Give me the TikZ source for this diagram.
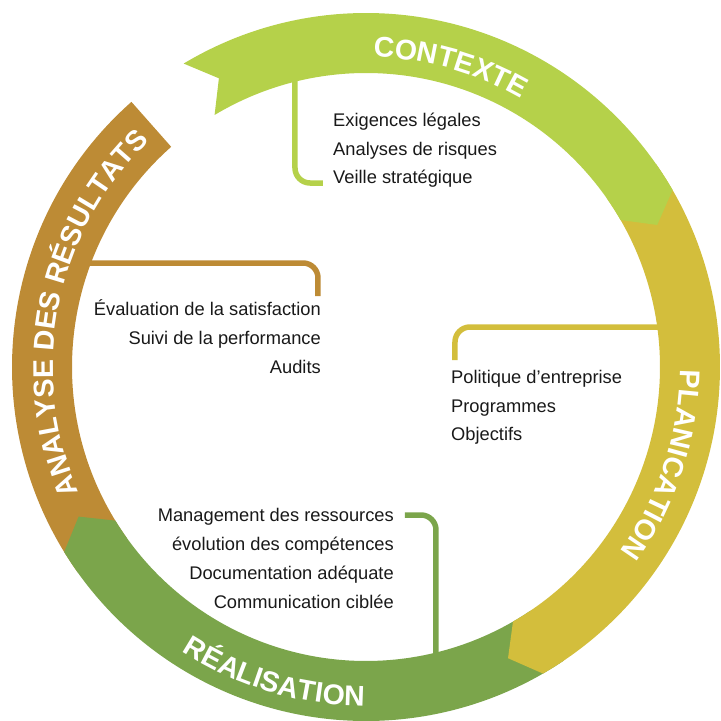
\documentclass[tikz,border=0pt]{standalone}
\usepackage{fontspec}
\setmainfont{Liberation Sans}
\usetikzlibrary{decorations.text}
\definecolor{cctx}{RGB}{181,209,74}
\definecolor{cplan}{RGB}{211,190,60}
\definecolor{creal}{RGB}{123,165,75}
\definecolor{cana}{RGB}{189,139,53}
\definecolor{ctxt}{RGB}{25,25,25}
\tikzset{
  itemtext/.style={font=\fontsize{18.3}{20}\selectfont, text=ctxt, inner sep=0pt},
  bracket/.style={line width=5.5pt, rounded corners=15pt},
  ringlabel/.style={decorate, decoration={text along path, text align=center, text color=white}}
}
\begin{document}
\begin{tikzpicture}
\useasboundingbox (-366pt,-354pt) rectangle (355pt,367pt);
% ring segments (drawn so each head lies over the next segment's start)
\fill[cana] (215.5:354pt) arc[start angle=215.5, end angle=131.5, radius=354pt]
  -- (131.5:294pt) arc[start angle=131.5, end angle=215.5, radius=294pt] -- cycle;
\fill[creal] (-56:354pt) arc[start angle=-56, end angle=-148.5, radius=354pt]
  -- (-152.5:324pt) -- (-148.5:294pt) arc[start angle=-148.5, end angle=-56, radius=294pt] -- cycle;
\fill[cplan] (35:354pt) arc[start angle=35, end angle=-60, radius=354pt]
  -- (-64:324pt) -- (-60:294pt) arc[start angle=-60, end angle=35, radius=294pt] -- cycle;
\fill[cctx] (121:354pt) arc[start angle=121, end angle=30, radius=354pt]
  -- (26:324pt) -- (30:294pt) arc[start angle=30, end angle=121, radius=294pt]
  -- (117:324pt) -- cycle;
% ring labels
\path[ringlabel, decoration={text={|\fontsize{28.5}{30}\selectfont\bfseries|CONTEXTE}}]
  (104.3:310pt) arc[start angle=104.3, end angle=44.3, radius=310pt];
\path[ringlabel, decoration={text={|\fontsize{28.5}{30}\selectfont\bfseries|PLANICATION}}]
  (11.7:314pt) arc[start angle=11.7, end angle=-48.3, radius=314pt];
\path[ringlabel, decoration={text={|\fontsize{28.5}{30}\selectfont\bfseries|RÉALISATION}}]
  (-136.6:339pt) arc[start angle=-136.6, end angle=-76.6, radius=339pt];
\path[ringlabel, decoration={text={|\fontsize{28.5}{30}\selectfont\bfseries|ANALYSE DES RÉSULTATS}}]
  (218.6:313pt) arc[start angle=218.6, end angle=118.6, radius=313pt];
% text blocks
\node[itemtext, anchor=base west] (c1) at (-33pt,240.5pt) {Exigences légales};
\node[itemtext, anchor=base west] (c2) at (-33pt,212pt) {Analyses de risques};
\node[itemtext, anchor=base west] (c3) at (-33pt,183.5pt) {Veille stratégique};
\node[itemtext, anchor=base east] (a1) at (-45pt,52pt) {Évaluation de la satisfaction};
\node[itemtext, anchor=base east] (a2) at (-45pt,23pt) {Suivi de la performance};
\node[itemtext, anchor=base east] (a3) at (-45pt,-6pt) {Audits};
\node[itemtext, anchor=base west] (p1) at (85pt,-16pt) {Politique d’entreprise};
\node[itemtext, anchor=base west] (p2) at (85pt,-45pt) {Programmes};
\node[itemtext, anchor=base west] (p3) at (85pt,-73pt) {Objectifs};
\node[itemtext, anchor=base east] (r1) at (28pt,-154pt) {Management des ressources};
\node[itemtext, anchor=base east] (r2) at (28pt,-183pt) {évolution des compétences};
\node[itemtext, anchor=base east] (r3) at (28pt,-212pt) {Documentation adéquate};
\node[itemtext, anchor=base east] (r4) at (28pt,-241pt) {Communication ciblée};
% bracket end points
\coordinate (cA) at (-71pt,300pt);
\coordinate (cB) at (-43pt,184pt);
\coordinate (aA) at (-285pt,104pt);
\coordinate (aB) at (-48pt,71pt);
\coordinate (pA) at (300pt,40pt);
\coordinate (pB) at (89pt,7pt);
\coordinate (rA) at (39pt,-148pt);
\coordinate (rB) at (70pt,-300pt);
% brackets
\draw[bracket, cctx] (cA) |- (cB);
\draw[bracket, cana] (aA) -| (aB);
\draw[bracket, cplan] (pA) -| (pB);
\draw[bracket, creal] (rA) -| (rB);
\end{tikzpicture}
\end{document}
